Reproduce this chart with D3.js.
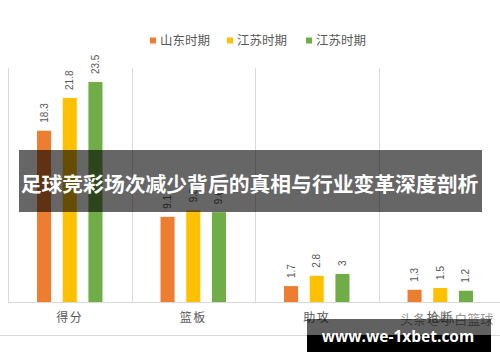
<!DOCTYPE html>
<html><head><meta charset="utf-8">
<script src="https://cdn.jsdelivr.net/npm/d3@7"></script>
<style>html,body{margin:0;padding:0;background:#fff;}svg{display:block;}</style>
</head><body>
<svg id="c" width="500" height="362"></svg>
<script>
const categories = ["得分", "篮板", "助攻", "抢断"];
const seriesNames = ["山东时期", "江苏时期", "江苏时期"];
const seriesColors = ["#ED7D31", "#FFC000", "#70AD47"];
const shandong = [18.3, 9.1, 1.7, 1.3];
const jiangsu1 = [21.8, 9.8, 2.8, 1.5];
const jiangsu2 = [23.5, 9.6, 3, 1.2];
const seriesValues = [shandong, jiangsu1, jiangsu2];
const bannerTitle = "足球竞彩场次减少背后的真相与行业变革深度剖析";
const watermarkSite = "www.we-1xbet.com";
const watermarkSource = "头条 @小白篮球";

const svg = d3.select("#c");
const font = "'Noto Sans CJK SC','Microsoft YaHei',sans-serif";

const x0 = d3.scaleBand().domain(categories).range([8, 502]).paddingInner(0.47).paddingOuter(0.235);
const x1 = d3.scaleBand().domain([0,1,2]).range([0, x0.bandwidth()]).paddingInner(0.453).paddingOuter(0);
const y = d3.scaleLinear().domain([0, 25]).range([302, 68]);

// category separators
const step = x0.step();
const bounds = d3.range(categories.length + 1).map(i => 8 + i * step);
svg.append("g").selectAll("line").data(bounds).join("line")
  .attr("x1", d => Math.round(d) + 0.5).attr("x2", d => Math.round(d) + 0.5)
  .attr("y1", y(25)).attr("y2", y(0))
  .attr("stroke", "#d9d9d9").attr("stroke-width", 1);

// baseline
svg.append("line").attr("x1", 8).attr("x2", 500).attr("y1", y(0) + 0.5).attr("y2", y(0) + 0.5)
  .attr("stroke", "#d9d9d9");
// bottom border
svg.append("line").attr("x1", 0).attr("x2", 500).attr("y1", 335.5).attr("y2", 335.5)
  .attr("stroke", "#d9d9d9");

// bars
const rows = [];
categories.forEach((c, ci) => seriesValues.forEach((s, si) => rows.push({c, si, v: s[ci]})));
const bars = svg.append("g");
bars.selectAll("rect").data(rows).join("rect")
  .attr("x", d => x0(d.c) + x1(d.si))
  .attr("width", x1.bandwidth())
  .attr("y", d => y(d.v))
  .attr("height", d => y(0) - y(d.v))
  .attr("fill", d => seriesColors[d.si]);

// value labels (rotated)
bars.selectAll("text").data(rows).join("text")
  .attr("transform", d => `translate(${x0(d.c) + x1(d.si) + x1.bandwidth() / 2 + 3.5},${y(d.v) - 8}) rotate(-90)`)
  .attr("text-anchor", "start")
  .attr("font-family", "'Liberation Sans',Arial,sans-serif")
  .attr("font-size", 10)
  .attr("fill", "#595959")
  .text(d => d.v);

// category axis labels
const xAxis = d3.axisBottom(x0).tickSize(0).tickPadding(0);
const gx = svg.append("g").attr("transform", `translate(0,${y(0)})`).call(xAxis);
gx.select(".domain").remove();
gx.selectAll("text").attr("y", 20).attr("dy", 0)
  .attr("font-family", font).attr("font-size", 12).attr("letter-spacing", 1.5)
  .attr("fill", "#595959");

// legend
const legendX = [150, 227, 306];
const lg = svg.append("g").selectAll("g").data(seriesNames).join("g")
  .attr("transform", (d, i) => `translate(${legendX[i]},0)`);
lg.append("rect").attr("x", 0).attr("y", 37.5).attr("width", 6).attr("height", 6)
  .attr("fill", (d, i) => seriesColors[i]);
lg.append("text").attr("x", 10).attr("y", 45).attr("font-family", font).attr("font-size", 12.5)
  .attr("fill", "#595959").text(d => d);

// overlay banner
svg.append("rect").attr("x", 19).attr("y", 150).attr("width", 463).attr("height", 62)
  .attr("fill", "#000").attr("fill-opacity", 0.6);
svg.append("text").attr("x", 249.5).attr("y", 192).attr("text-anchor", "middle")
  .attr("font-family", font).attr("font-weight", "bold").attr("font-size", 20.8)
  .attr("fill", "#fff").text(bannerTitle);

// watermark source text
svg.append("text").attr("x", 400).attr("y", 324).attr("font-family", font).attr("font-size", 13)
  .attr("fill", "#777").attr("fill-opacity", 0.8).text(watermarkSource);

// site watermark box
svg.append("rect").attr("x", 307).attr("y", 319).attr("width", 184).attr("height", 16)
  .attr("fill", "#000").attr("fill-opacity", 0.62);
svg.append("rect").attr("x", 307).attr("y", 335).attr("width", 184).attr("height", 17)
  .attr("fill", "#000");
svg.append("text").attr("x", 398).attr("y", 342).attr("text-anchor", "middle")
  .attr("font-family", "'Open Sans',sans-serif").attr("font-weight", "bold").attr("font-size", 15.5)
  .attr("fill", "#fff").text(watermarkSite);
</script>
</body></html>
